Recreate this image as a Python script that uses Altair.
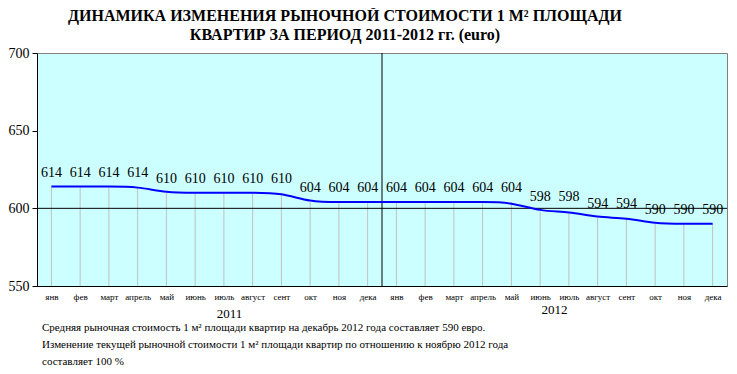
import altair as alt
import pandas as pd

months = ["янв", "фев", "март", "апрель", "май", "июнь", "июль", "август", "сент", "окт", "ноя", "дека"]
years = ["2011", "2012"]
prices = [614, 614, 614, 614, 610, 610, 610, 610, 610, 604, 604, 604,
          604, 604, 604, 604, 604, 598, 598, 594, 594, 590, 590, 590]
y_ticks = [550, 600, 650, 700]
ref_value = [600]
title_lines = ["ДИНАМИКА ИЗМЕНЕНИЯ РЫНОЧНОЙ СТОИМОСТИ  1 М² ПЛОЩАДИ",
               "КВАРТИР ЗА ПЕРИОД 2011-2012 гг. (euro)"]
notes = ["Средняя рыночная стоимость 1 м² площади квартир на декабрь 2012 года составляет 590 евро.",
         "Изменение текущей рыночной стоимости 1 м² площади квартир по отношению к ноябрю 2012 года",
         "составляет 100 %"]

rows = []
for i, p in enumerate(prices):
    rows.append({"idx": i, "month": months[i % 12], "year": years[i // 12], "price": p})
df = pd.DataFrame(rows)

W, H = 690, 233
SERIF = "Times New Roman, Liberation Serif, serif"
n = len(prices)

month_js = "[" + ",".join("'" + m + "'" for m in months) + "]"

xscale = alt.Scale(domain=[-0.5, n - 0.5], nice=False, zero=False)
yscale = alt.Scale(domain=[y_ticks[0], y_ticks[-1]], nice=False, zero=False)

x_axis = alt.Axis(values=list(range(n)), labelExpr=month_js + "[datum.value % 12]",
                  ticks=False, grid=False, title=None, domainColor="black",
                  labelFont=SERIF, labelFontSize=9, labelColor="black",
                  labelPadding=6, labelOverlap=False, labelFlush=False,
                  labelBound=False)
y_axis = alt.Axis(values=y_ticks, grid=False, title=None, domainColor="black",
                  tickColor="black", tickSize=5, labelFont=SERIF, labelFontSize=14,
                  labelColor="black", labelPadding=3)

def X(field):
    return alt.X(field, scale=xscale, axis=x_axis, title=None)

def Y(field):
    return alt.Y(field, scale=yscale, axis=y_axis, title=None)

base = alt.Chart(df)

drops = base.mark_rule(color="#C0C0C0", strokeWidth=1).encode(
    x=X("idx:Q"), y=Y("price:Q"), y2=alt.datum(y_ticks[0]))

ref = alt.Chart(pd.DataFrame({"ref": ref_value})).mark_rule(color="black", strokeWidth=1).encode(
    y=Y("ref:Q"))

sep = alt.Chart(pd.DataFrame({"sep": [len(months) - 0.5]})).mark_rule(color="black", strokeWidth=1).encode(
    x=X("sep:Q"), y=alt.value(0), y2=alt.value(H))

line = base.mark_line(color="#0000FF", strokeWidth=2, interpolate="basis").encode(
    x=X("idx:Q"), y=Y("price:Q"))

labels = base.mark_text(dy=-14, font=SERIF, fontSize=14, color="black").encode(
    x=X("idx:Q"), y=Y("price:Q"), text="price:Q")

def year_layer(yr, dx, dy):
    return base.transform_filter(alt.datum.year == yr).transform_aggregate(
        center="mean(idx)", groupby=["year"]).mark_text(
        font=SERIF, fontSize=13, color="black", dx=dx, dy=dy).encode(
        x=X("center:Q"), y=alt.value(H + 26), text="year:N")

note_layer = alt.Chart(pd.DataFrame({"note": ["\n".join(notes)]})).mark_text(
    lineBreak="\n", align="left", baseline="top", font=SERIF, fontSize=11,
    lineHeight=17, color="black").encode(
    x=alt.value(5), y=alt.value(H + 36), text="note:N")

chart = alt.layer(drops, ref, sep, line, labels, year_layer("2011", 20, 2),
                  year_layer("2012", 0, -2), note_layer).properties(
    width=W, height=H,
    title=alt.Title(text=title_lines, font=SERIF, fontSize=16, fontWeight="bold",
                    anchor="middle", dx=-37, offset=3, lineHeight=19, color="black"),
    autosize=alt.AutoSizeParams(type="none"),
    padding={"left": 29, "top": 45, "right": 2, "bottom": 80},
    background="white",
).configure_view(fill="#CCFFFF", stroke="#808080")

chart.save("out.html", embed_options={"renderer": "svg", "actions": False})
